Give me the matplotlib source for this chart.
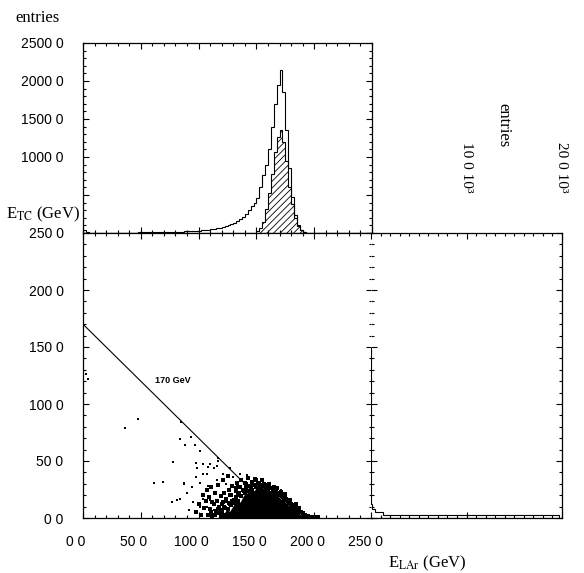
import numpy as np
import matplotlib
matplotlib.use("Agg")
import matplotlib.pyplot as plt
import matplotlib.transforms as mtransforms
from matplotlib.ticker import MultipleLocator

plt.rcParams["font.family"] = "Liberation Sans"
plt.rcParams["mathtext.fontset"] = "stix"
plt.rcParams["hatch.linewidth"] = 0.6
plt.rcParams["axes.linewidth"] = 0.9

# E_LAr spectrum, all events, 2.5 GeV bins from 0 to 250
elar_edges = np.arange(0, 252.5, 2.5)
elar_all = [45, 12, 6, 5, 5, 4, 4, 4, 4, 4,
            4, 4, 5, 5, 5, 5, 6, 6, 6, 7,
            7, 8, 8, 9, 9, 10, 10, 11, 12, 13,
            14, 15, 16, 17, 18, 20, 22, 24, 26, 28,
            31, 35, 40, 45, 50, 56, 62, 70, 80, 92,
            105, 118, 135, 155, 180, 210, 250, 300, 360, 400,
            460, 600, 760, 900, 1100, 1400, 1700, 1950, 2140, 1850,
            1350, 850, 480, 240, 110, 45, 15, 5, 0, 0,
            0, 0, 0, 0, 0, 0, 0, 0, 0, 0,
            0, 0, 0, 0, 0, 0, 0, 0, 0, 0]

# hatched subset
sub_edges = [150, 152.5, 155, 157.5, 160, 162.5, 165, 167.5, 170, 172.5,
             175, 177.5, 180, 182.5, 185, 187.5, 190, 192.5]
sub_counts = [20, 60, 150, 320, 520, 780, 1060, 1260, 1360, 1200,
              950, 600, 380, 200, 90, 35, 10]

# E_TC projection (entries)
etc_edges = [0, 2.5, 5, 7.5, 10, 12.5, 15, 20, 30, 40, 60, 80, 100, 150]
etc_counts = [19700, 1300, 450, 150, 70, 45, 40, 35, 30, 25, 20, 15, 10]

# dense core of the scatter: upper boundary vs E_LAr
core_elar = [118, 121, 124, 127, 130, 133, 136, 139, 142, 145, 148, 151, 154,
             157, 160, 163, 166, 169, 172, 175, 178, 181, 184, 187, 190, 193]
core_top = [0, 3, 7, 6, 11, 15, 14, 20, 22, 25, 24, 28, 26,
            27, 24, 24, 21, 19, 16, 14, 11, 9, 7, 4, 2, 0]

# points around the edge of the core
edge_elar = [108, 110, 112, 113, 115, 116, 118, 119, 120, 121, 122, 123, 124, 126, 127, 128, 129,
             131, 132, 133, 134, 136, 137, 139, 141, 143, 144, 146, 148, 149, 151, 153, 155, 157,
             159, 161, 163, 165, 167, 169, 171, 173, 175, 177, 179, 181, 183, 185, 187, 189, 191,
             193, 196, 198, 200, 203, 98, 100, 102, 104, 105, 106, 107, 109, 111, 111, 114, 117,
             119, 121, 125,
             118, 120, 122, 123, 125, 126, 128, 129, 131, 132, 134, 135, 137, 138, 140, 141, 143,
             145, 146, 147, 150, 152, 154, 156, 158, 160, 162, 164, 166, 168, 170, 172, 174, 176,
             178, 180, 182, 184, 186, 188, 190, 192, 194, 195, 197, 184, 187, 179, 175, 168, 160,
             150, 140, 132, 127, 124, 120, 117, 114, 112]
edge_etc = [3, 8, 2, 12, 6, 15, 10, 19, 4, 14, 22, 9, 17, 25, 12, 20, 28,
            16, 24, 31, 20, 27, 33, 24, 30, 35, 28, 32, 29, 34, 31, 29, 33, 30,
            28, 30, 26, 27, 24, 22, 23, 18, 19, 15, 14, 11, 10, 8, 6, 5, 3,
            2, 1, 0.8, 0.5, 0.5, 5, 12, 3, 20, 9, 15, 25, 18, 27, 5, 22, 29,
            2, 33, 37,
            4, 7, 10, 3, 8, 13, 11, 15, 13, 18, 15, 22, 19, 25, 22, 26, 24,
            27, 25, 29, 27, 30, 27, 28, 26, 25, 26, 24, 23, 21, 20, 19, 16, 17,
            13, 12, 10, 9, 7, 5, 4, 3, 2, 1.5, 1, 12, 9, 16, 21, 26, 29,
            33, 31, 26, 20, 15, 12, 8, 3, 14]

# isolated events
sparse_elar = [3, 4, 36, 48, 85, 84, 88, 97, 101, 93, 117, 78, 99, 98, 104, 110, 116, 108,
               61, 69, 87, 77, 84, 90, 94, 95, 98, 104, 101, 104, 107, 108, 113, 116, 117,
               118, 121, 124, 127, 130, 133, 136, 142, 142, 147, 153, 156, 159, 162, 165,
               171, 171, 176, 181, 185, 92, 101, 107, 110, 113, 81, 87]
sparse_etc = [126, 122, 79, 87, 84, 69, 64, 64, 59, 71, 53, 49, 44, 48, 47, 47, 46, 45,
              31, 32, 30, 14, 17, 22, 27, 14, 36, 39, 31, 17, 39, 28, 44, 33, 50,
              28, 39, 30, 44, 36, 28, 39, 34, 38, 30, 28, 32, 28, 28, 25,
              25, 22, 16, 13, 7, 7, 10, 10, 16, 7, 16, 31]

# 170 GeV line
line_elar = [0, 170]
line_etc = [170, 0]

main_ticks = [0, 50, 100, 150, 200, 250]
main_labels = ["0 0", "50 0", "100 0", "150 0", "200 0", "250 0"]
top_ticks = [0, 500, 1000, 1500, 2000, 2500]
top_labels = ["", "", "1000 0", "1500 0", "2000 0", "2500 0"]
right_ticks = [0, 10000, 20000]
right_labels = ["", "10 0 10³", "20 0 10³"]

W, H = 584, 573
fig = plt.figure(figsize=(W / 100, H / 100), dpi=100)

def fbox(x0, y0, x1, y1):
    return [x0 / W, 1 - y1 / H, (x1 - x0) / W, (y1 - y0) / H]

ax_top = fig.add_axes(fbox(83, 43, 372, 233))
ax_main = fig.add_axes(fbox(83, 233, 372, 518))
ax_right = fig.add_axes(fbox(371, 233, 562, 518))

def style(ax):
    ax.tick_params(which="both", direction="in", top=True, right=True, width=0.8)
    ax.tick_params(which="major", length=4.5)
    ax.tick_params(which="minor", length=2.5)

# top histogram
ax_top.stairs(elar_all, elar_edges, color="k", lw=0.8)
ax_top.stairs(sub_counts, sub_edges, fill=True, facecolor="none", edgecolor="k",
              hatch="/////", lw=0.8)
ax_top.set_xlim(0, 250)
ax_top.set_ylim(0, 2500)
ax_top.xaxis.set_major_locator(MultipleLocator(50))
ax_top.xaxis.set_minor_locator(MultipleLocator(10))
ax_top.set_xticklabels([])
ax_top.set_yticks(top_ticks)
ax_top.set_yticklabels(top_labels, fontsize=10)
ax_top.yaxis.set_minor_locator(MultipleLocator(100))
style(ax_top)
ax_top.tick_params(axis="y", pad=14)

# scatter
ax_main.fill_between(core_elar, 0, core_top, color="k", lw=0)
ax_main.plot(edge_elar, edge_etc, "s", ms=2.2, mew=0, color="k")
ax_main.plot(sparse_elar, sparse_etc, "s", ms=1.6, mew=0, color="k")
ax_main.plot(line_elar, line_etc, color="k", lw=0.8)
ax_main.text(62, 121, "170 GeV", fontsize=6.5, fontweight="bold", va="center")
ax_main.set_xlim(0, 250)
ax_main.set_ylim(0, 250)
ax_main.set_xticks(main_ticks)
ax_main.set_xticklabels(main_labels, fontsize=10)
ax_main.set_yticks(main_ticks)
ax_main.set_yticklabels(main_labels, fontsize=10)
ax_main.xaxis.set_minor_locator(MultipleLocator(10))
ax_main.yaxis.set_minor_locator(MultipleLocator(10))
style(ax_main)
ax_main.tick_params(axis="y", pad=14)
ax_main.tick_params(axis="x", pad=12)
shift = mtransforms.ScaledTranslation(-7 / 100, 0, fig.dpi_scale_trans)
for lab in ax_main.get_xticklabels():
    lab.set_transform(lab.get_transform() + shift)

# E_TC projection
ax_right.stairs(etc_counts, etc_edges, orientation="horizontal", color="k", lw=0.8)
ax_right.set_xlim(0, 20000)
ax_right.set_ylim(0, 250)
ax_right.set_xticks(right_ticks)
ax_right.xaxis.set_minor_locator(MultipleLocator(1000))
ax_right.yaxis.set_major_locator(MultipleLocator(50))
ax_right.yaxis.set_minor_locator(MultipleLocator(10))
ax_right.set_yticklabels([])
style(ax_right)
ax_right.tick_params(axis="x", labelbottom=False, labeltop=True, pad=29)
ax_right.set_xticklabels(right_labels, rotation=-90, fontsize=11, family="Liberation Serif")
ax_right.spines["left"].set_visible(False)

serif = dict(family="Liberation Serif", fontsize=12)
fig.text(15 / W, 1 - 18 / H, "entries", va="center", ha="left", **serif)
fig.text(80 / W, 1 - 214 / H, r"E$_{\mathrm{TC}}$ (GeV)", va="center", ha="right", **serif)
fig.text(388 / W, 1 - 563 / H, r"E$_{\mathrm{LAr}}$ (GeV)", va="center", ha="left", **serif)
fig.text(503 / W, 1 - 125 / H, "entries", rotation=-90, va="center", ha="center", **serif)

fig.savefig("out.png", dpi=100)
